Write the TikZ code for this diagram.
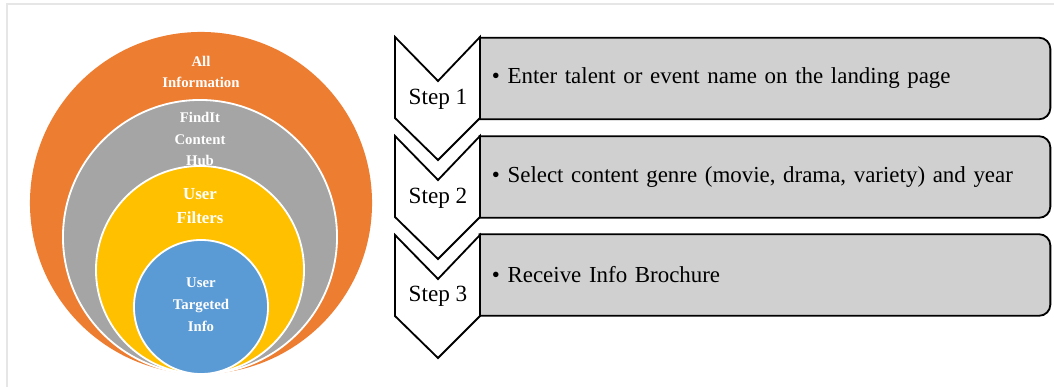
\documentclass[tikz,border=0pt]{standalone}
\usepackage{fontspec}
\setmainfont{Liberation Serif}
\usetikzlibrary{positioning, backgrounds}

\definecolor{allorange}{HTML}{ED7D31}
\definecolor{hubgrey}{HTML}{A5A5A5}
\definecolor{filteryellow}{HTML}{FFC000}
\definecolor{targetblue}{HTML}{5B9BD5}
\definecolor{boxgrey}{HTML}{D0D0D0}
\definecolor{framegrey}{HTML}{E6E6E6}

\begin{document}
\begin{tikzpicture}[
    x=0.025cm, y=-0.025cm,
    ring/.style={circle, draw=white, line width=1.3pt, inner sep=0pt},
    ringtext/.style={align=center, text=white, font=\fontsize{10.5}{15.5}\selectfont\bfseries},
    chevron/.style={draw=black, fill=white, line width=1.3pt, line join=miter},
    infobox/.style={text width=13.65cm, inner xsep=0.3cm, minimum height=2.025cm, align=left, font=\fontsize{16.3}{19}\selectfont},
    boxline/.style={draw=black, fill=boxgrey, line width=1.3pt},
    steplabel/.style={font=\fontsize{16.5}{19}\selectfont}
]
    \useasboundingbox (0,0) rectangle (1054,387);
    % screenshot frame
    \draw[framegrey, line width=2pt] (7,387) -- (7,4) -- (1054,4);

    % nested circles
    \node[ring, draw=none, fill=allorange, minimum size=8.55cm] (allinfo) at (201,203) {};
    \node[ring, fill=hubgrey, minimum size=6.85cm] (hub) at (200,237) {};
    \node[ring, fill=filteryellow, minimum size=5.2cm] (filters) at (200,270) {};
    \node[ring, fill=targetblue, minimum size=3.35cm] (targeted) at (201,307) {};

    \node[ringtext] (allinfotext) at (201,72) {All\\Information};
    \node[ringtext] (hubtext) at (200,139) {FindIt\\Content\\Hub};
    \node[ringtext, font=\fontsize{12}{17.5}\selectfont\bfseries] (filterstext) at (200,206) {User\\Filters};
    \node[ringtext] (targetedtext) at (201,305) {User\\Targeted\\Info};

    % step boxes
    \node[infobox] (box1) at (765,78.5) {\textbullet{} Enter talent or event name on the landing page};
    \node[infobox] (box2) at (765,177) {\textbullet{} Select content genre (movie, drama, variety) and year};
    \node[infobox] (box3) at (765,275) {\textbullet{} Receive Info Brochure};

    \begin{scope}[on background layer]
        \foreach \b in {box1, box2, box3}
            \draw[boxline] (\b.south west) -- (\b.north west)
                -- ([xshift=-8pt]\b.north east) arc[start angle=90, end angle=0, radius=8pt]
                -- ([yshift=8pt]\b.south east) arc[start angle=0, end angle=-90, radius=8pt]
                -- cycle;
    \end{scope}

    % chevrons
    \foreach \t in {37, 136, 235}
        \draw[chevron] (395,\t) -- (438,\t+44) -- (480,\t) -- (480,\t+81)
            -- (438,\t+123) -- (395,\t+81) -- cycle;

    \node[steplabel] (step1) at (438,99) {Step 1};
    \node[steplabel] (step2) at (438,198) {Step 2};
    \node[steplabel] (step3) at (438,296) {Step 3};
\end{tikzpicture}
\end{document}
